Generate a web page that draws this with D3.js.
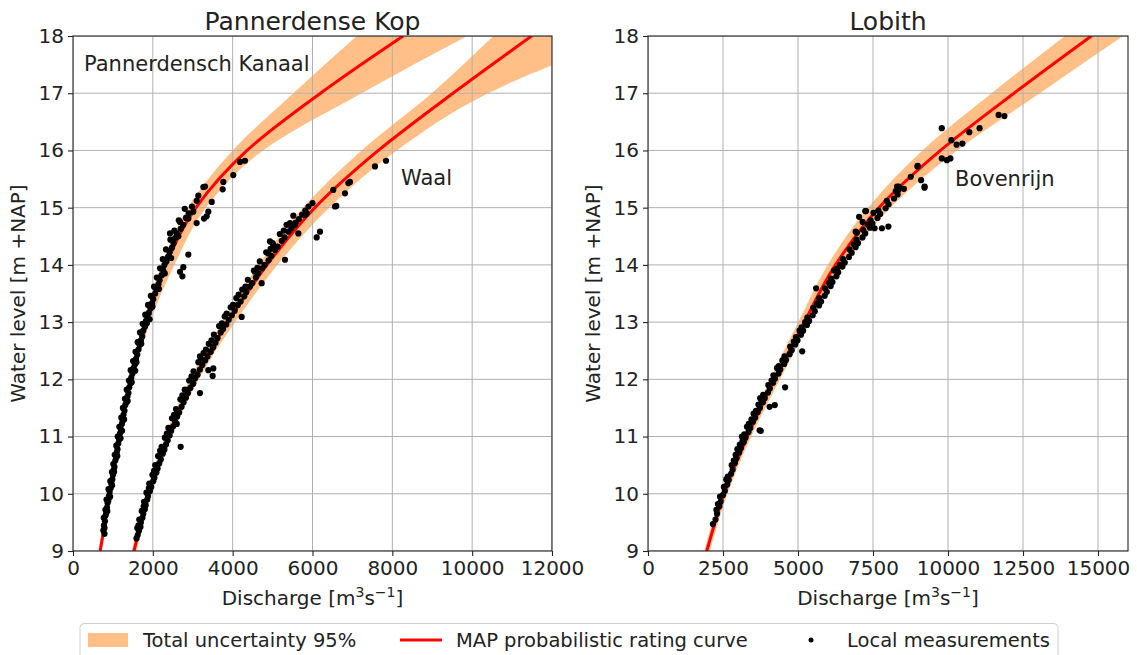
<!DOCTYPE html>
<html>
<head>
<meta charset="utf-8">
<script src="https://cdn.jsdelivr.net/npm/d3@7/dist/d3.min.js"></script>
<style>
	body { margin: 0; background: #fff; }
	svg { font-family: "DejaVu Sans", sans-serif; }
</style>
</head>
<body>
<svg id="chart" width="1137" height="655"></svg>
<script>

const levels = [9, 10, 11, 12, 13, 14, 15, 16, 17, 18]

// Pannerdensch Kanaal
const pkMap  = [680, 927, 1165, 1450, 1830, 2320, 3080, 4360, 6200, 8270]
const pkLow  = [640, 890, 1120, 1400, 1760, 2220, 2880, 4000, 5520, 7110]
const pkHigh = [720, 970, 1220, 1520, 1930, 2540, 3330, 4760, 7230, 9880]

// Waal
const waalMap  = [1528, 1900, 2380, 3030, 3880, 4860, 6060, 7650, 9520, 11490]
const waalLow  = [1470, 1840, 2300, 2930, 3740, 4650, 5760, 7230, 8985, 10530]
const waalHigh = [1590, 1970, 2470, 3150, 4060, 5120, 6420, 8110, 10400, 13900]

// Bovenrijn (Lobith)
const lobMap  = [1960, 2540, 3310, 4230, 5210, 6250, 7700, 9750, 12200, 14780]
const lobLow  = [1870, 2440, 3180, 4070, 5010, 5990, 7330, 9150, 11450, 13900]
const lobHigh = [2060, 2650, 3440, 4400, 5420, 6540, 8080, 10300, 13060, 15830]

// local measurements [discharge, water level]
const pkPoints = [
	[760,9.36],[775,9.45],[790,9.40],[800,9.52],[770,9.58],[815,9.62],[830,9.66],[812,9.72],[850,9.76],[866,9.84],
	[840,9.90],[885,9.88],[900,9.96],[918,10.03],[890,10.08],[945,10.10],[960,10.18],[935,10.22],[985,10.25],[1000,10.33],
	[975,10.38],[1020,10.42],[1040,10.47],[1010,10.52],[1060,10.58],[1080,10.63],[1045,10.68],[1095,10.72],[1115,10.78],[1085,10.84],
	[1135,10.88],[1155,10.95],[1120,11.00],[1175,11.05],[1200,11.12],[1160,11.17],[1225,11.22],[1245,11.28],[1210,11.33],[1265,11.38],
	[1290,11.45],[1250,11.50],[1310,11.55],[1340,11.60],[1300,11.66],[1365,11.70],[1390,11.76],[1345,11.82],[1410,11.86],[1440,11.93],
	[1400,11.98],[1460,12.03],[1490,12.10],[1445,12.16],[1520,12.20],[1550,12.26],[1505,12.32],[1580,12.36],[1610,12.43],[1565,12.48],
	[1640,12.52],[1670,12.60],[1620,12.65],[1700,12.68],[1735,12.75],[1680,12.82],[1760,12.85],[1800,12.92],[1745,12.97],[1830,13.02],
	[1870,13.08],[1810,13.13],[1900,13.16],[1940,13.24],[1880,13.30],[1980,13.33],[2010,13.40],[1950,13.46],[2060,13.50],[2090,13.57],
	[2030,13.62],[2140,13.66],[2170,13.73],[2100,13.78],[2220,13.82],[2260,13.90],[2180,13.94],[2290,14.00],[2340,14.06],[2250,14.10],
	[2380,14.14],[2420,14.22],[2330,14.27],[2480,14.30],[2520,14.38],[2440,14.44],[2560,14.47],[2620,14.52],[2540,14.60],[2700,14.63],
	[2760,14.70],[2650,14.78],[2830,14.82],[2900,14.90],[2800,14.98],[2980,15.02],[3100,15.12],
	[2430,14.55],[2597,14.55],[2639,14.50],[2680,14.75],[2889,14.81],[3014,14.93],[3098,14.73],[3282,14.81],[3349,14.85],[3390,14.93],
	[3476,15.10],[3140,15.21],[3265,15.36],[3307,15.37],[3750,15.32],[3766,15.45],[4016,15.57],[4183,15.80],[4308,15.82],[2889,14.18],
	[2764,13.96],[2680,13.88],[2741,13.80],
	[790,9.30],[860,9.70],[930,9.95],[1030,10.38],[1110,10.66],[1190,10.97],[1280,11.30],[1370,11.62],[1470,11.95],[1590,12.30],
	[1710,12.62],[1850,12.98],[1990,13.27],[2150,13.58],[2300,13.85],[2460,14.12],[1920,13.05],[1560,12.15],[1230,11.10],[980,10.15]
]

const waalPoints = [
	[1590,9.22],[1620,9.28],[1650,9.35],[1610,9.40],[1690,9.42],[1700,9.50],[1660,9.55],[1740,9.58],[1760,9.65],[1720,9.70],
	[1800,9.73],[1820,9.80],[1780,9.86],[1860,9.90],[1880,9.96],[1840,10.02],[1930,10.05],[1960,10.12],[1910,10.18],[2010,10.22],
	[2040,10.28],[1990,10.33],[2090,10.37],[2120,10.44],[2060,10.50],[2160,10.53],[2200,10.60],[2130,10.66],[2250,10.70],[2290,10.77],
	[2220,10.82],[2330,10.86],[2370,10.93],[2300,10.98],[2420,11.02],[2460,11.10],[2390,11.15],[2510,11.18],[2560,11.26],[2480,11.32],
	[2610,11.35],[2660,11.42],[2580,11.48],[2720,11.52],[2770,11.60],[2690,11.65],[2830,11.68],[2880,11.76],[2800,11.82],[2940,11.85],
	[3000,11.92],[2910,11.98],[3060,12.02],[3120,12.08],[3020,12.14],[3180,12.17],[3240,12.25],[3140,12.30],[3310,12.33],[3370,12.40],
	[3270,12.46],[3450,12.48],[3500,12.55],[3400,12.62],[3570,12.64],[3620,12.72],[3530,12.78],[3700,12.82],[3760,12.88],[3660,12.93],
	[3840,12.96],[3900,13.04],[3800,13.10],[3980,13.12],[4050,13.20],[3950,13.26],[4130,13.30],[4200,13.36],[4090,13.42],[4290,13.45],
	[4340,13.52],[4240,13.57],[4430,13.62],[4490,13.68],[4380,13.74],[4580,13.78],[4640,13.85],[4530,13.90],[4740,13.94],[4800,14.00],
	[4680,14.06],[4900,14.08],[4970,14.16],[4840,14.22],[5060,14.26],[5130,14.32],[5000,14.38],[5230,14.42],[5300,14.48],[5180,14.54],
	[5400,14.58],[5470,14.64],[5350,14.70],[5580,14.74],[5660,14.80],[5520,14.86],[5740,14.88],[5820,14.95],[5900,15.02],[6000,15.08],
	[2697,10.82],[3499,12.06],[3390,12.16],[3515,12.19],[3181,12.40],[3515,12.57],[3014,11.93],[2848,11.81],[3181,11.76],[3850,13.15],
	[4225,13.09],[4309,13.59],[4726,13.68],[4559,13.88],[5311,14.09],[4893,14.20],[5018,14.35],[4935,14.41],[5645,14.55],[5436,14.73],
	[5561,14.70],[5812,14.87],[5854,14.90],[6104,14.48],[6188,14.58],[6563,15.02],[6596,15.03],[6521,15.31],[6814,15.25],[6897,15.43],
	[6939,15.45],[7565,15.72],[7841,15.82],
	[1640,9.45],[1770,9.78],[1900,10.10],[2030,10.40],[2180,10.75],[2350,11.05],[2530,11.38],[2740,11.72],[2970,12.05],[3210,12.36],
	[3470,12.68],[3730,12.98],[4010,13.30],[4320,13.62],[4620,13.95],[4950,14.28],[5280,14.60],[2600,11.22],[3330,12.52],[4150,13.48]
]

const lobPoints = [
	[2163,9.47],[2250,9.55],[2300,9.65],[2280,9.72],[2380,9.78],[2420,9.86],[2400,9.95],[2500,9.98],[2560,10.05],[2530,10.12],
	[2640,10.16],[2690,10.24],[2660,10.30],[2770,10.35],[2820,10.42],[2790,10.50],[2900,10.54],[2950,10.62],[2920,10.68],[3040,10.72],
	[3100,10.80],[3060,10.86],[3190,10.90],[3250,10.98],[3210,11.04],[3350,11.08],[3410,11.15],[3360,11.22],[3500,11.26],[3570,11.33],
	[3520,11.40],[3660,11.43],[3730,11.50],[3680,11.56],[3830,11.60],[3890,11.67],[3840,11.73],[4000,11.77],[4060,11.84],[4010,11.90],
	[4170,11.94],[4230,12.01],[4180,12.07],[4350,12.10],[4410,12.17],[4360,12.23],[4540,12.27],[4600,12.34],[4550,12.40],[4720,12.44],
	[4790,12.51],[4740,12.57],[4910,12.61],[4980,12.68],[4930,12.74],[5100,12.78],[5170,12.85],[5120,12.91],[5300,12.95],[5370,13.02],
	[5310,13.08],[5490,13.12],[5560,13.19],[5510,13.25],[5700,13.29],[5770,13.36],[5710,13.42],[5890,13.46],[5960,13.53],[5900,13.59],
	[6090,13.63],[6150,13.70],[6100,13.76],[6280,13.80],[6340,13.87],[6300,13.93],[6480,13.97],[6560,14.04],[6500,14.10],[6700,14.14],
	[6790,14.21],[6720,14.27],[6920,14.31],[7000,14.38],[6950,14.44],[7150,14.48],[7240,14.55],[7180,14.61],[7400,14.65],[7480,14.72],
	[7420,14.78],[7650,14.82],[7740,14.89],[7680,14.95],[7920,14.99],[8020,15.06],[7960,15.12],[8200,15.16],[8320,15.23],[8260,15.29],
	[8530,15.33],
	[3130,11.00],[3297,11.17],[3720,11.11],[3760,11.10],[4053,11.52],[4227,11.55],[4570,11.86],[5140,12.49],[5603,13.59],[3740,11.67],
	[6963,14.56],[6923,14.58],[7037,14.84],[7153,14.75],[7267,14.94],[7240,14.94],[7517,14.91],[7553,14.64],[7797,14.64],[8013,14.67],
	[8300,15.37],[8357,15.37],[8350,15.31],[8760,15.54],[8990,15.73],[8983,15.72],[9103,15.48],[9220,15.37],[9217,15.35],[9793,15.86],
	[9963,15.83],[10080,15.86],[9793,16.39],[10113,16.18],[10287,16.10],[10480,16.12],[10710,16.32],[11053,16.39],[11687,16.62],[11880,16.60],
	[2330,9.82],[2610,10.25],[2860,10.58],[3150,10.92],[3450,11.30],[3790,11.64],[4120,11.98],[4480,12.33],[4860,12.66],[5240,13.00],
	[5640,13.33],[6040,13.68],[6400,14.00],[6860,14.36],[7330,14.70],[5050,12.85],[4300,12.20],[3600,11.45],[2980,10.78],[6200,13.90]
]

const levelTicks = [9, 10, 11, 12, 13, 14, 15, 16, 17, 18]
const leftTicks = [0, 2000, 4000, 6000, 8000, 10000, 12000]
const rightTicks = [0, 2500, 5000, 7500, 10000, 12500, 15000]

const legendLabels = ['Total uncertainty 95%', 'MAP probabilistic rating curve', 'Local measurements']

const bandColor = '#ffbf86'
const gridColor = '#b0b0b0'

const svg = d3.select('#chart')

const y = d3.scaleLinear()
	.domain([9, 18])
	.range([551, 36])

function drawPanel(id, x, xTicks, title, rivers, labels) {

	const [x0, x1] = x.range()
	const [yb, yt] = y.range()

	svg.append('clipPath')
		.attr('id', 'clip-' + id)
		.append('rect')
		.attr('x', x0)
		.attr('y', yt)
		.attr('width', x1 - x0)
		.attr('height', yb - yt)

	const plot = svg.append('g')
		.attr('clip-path', 'url(#clip-' + id + ')')

	// monotone in y, walked from the top of the plot down
	const band = d3.area()
		.y(d => y(d.h))
		.x0(d => x(d.lo))
		.x1(d => x(d.hi))
		.curve(d3.curveMonotoneY)

	const line = d3.line()
		.x(d => x(d.q))
		.y(d => y(d.h))
		.curve(d3.curveMonotoneY)

	rivers.forEach(function(r) {
		const rows = levels.map((h, i) => ({h: h, lo: r.low[i], hi: r.high[i]})).reverse()
		plot.append('path')
			.datum(rows)
			.attr('fill', bandColor)
			.attr('d', band)
	})

	// grid sits above the band, below the lines
	const grid = plot.append('g')
	xTicks.forEach(function(t) {
		grid.append('line')
			.attr('x1', x(t)).attr('x2', x(t))
			.attr('y1', yt).attr('y2', yb)
			.attr('stroke', gridColor)
			.attr('stroke-width', 1)
	})
	levelTicks.forEach(function(t) {
		grid.append('line')
			.attr('x1', x0).attr('x2', x1)
			.attr('y1', y(t)).attr('y2', y(t))
			.attr('stroke', gridColor)
			.attr('stroke-width', 1)
	})

	rivers.forEach(function(r) {
		const rows = levels.map((h, i) => ({h: h, q: r.map[i]})).reverse()
		plot.append('path')
			.datum(rows)
			.attr('fill', 'none')
			.attr('stroke', 'red')
			.attr('stroke-width', 3)
			.attr('d', line)
	})

	rivers.forEach(function(r) {
		plot.append('g')
			.selectAll('circle')
			.data(r.points)
			.enter()
			.append('circle')
			.attr('cx', d => x(d[0]))
			.attr('cy', d => y(d[1]))
			.attr('r', 3.1)
			.attr('fill', 'black')
	})

	// frame
	svg.append('rect')
		.attr('x', x0)
		.attr('y', yt)
		.attr('width', x1 - x0)
		.attr('height', yb - yt)
		.attr('fill', 'none')
		.attr('stroke', '#222')
		.attr('stroke-width', 1.1)

	const xAxis = d3.axisBottom(x)
		.tickValues(xTicks)
		.tickFormat(d3.format('d'))
		.tickSize(5)
		.tickPadding(5)

	const yAxis = d3.axisLeft(y)
		.tickValues(levelTicks)
		.tickFormat(d3.format('d'))
		.tickSize(5)
		.tickPadding(4)

	const xg = svg.append('g')
		.attr('transform', 'translate(0,' + yb + ')')
		.call(xAxis)
	const yg = svg.append('g')
		.attr('transform', 'translate(' + x0 + ',0)')
		.call(yAxis)

	;[xg, yg].forEach(function(g) {
		g.select('.domain').remove()
		g.selectAll('.tick line').attr('stroke', '#222').attr('stroke-width', 1.1)
		g.selectAll('.tick text')
			.attr('fill', '#222')
			.style('font-family', '"DejaVu Sans", sans-serif')
			.style('font-size', '20px')
	})

	svg.append('text')
		.attr('x', (x0 + x1) / 2)
		.attr('y', 29.5)
		.attr('text-anchor', 'middle')
		.style('font-size', '25px')
		.attr('fill', '#222')
		.text(title)

	const xl = svg.append('text')
		.attr('x', (x0 + x1) / 2)
		.attr('y', 605)
		.attr('text-anchor', 'middle')
		.style('font-size', '20px')
		.attr('fill', '#222')
	xl.append('tspan').text('Discharge [m')
	xl.append('tspan').attr('dy', -8).style('font-size', '14px').text('3')
	xl.append('tspan').attr('dy', 8).text('s')
	xl.append('tspan').attr('dy', -8).style('font-size', '14px').text('\u22121')
	xl.append('tspan').attr('dy', 8).text(']')

	svg.append('text')
		.attr('transform', 'translate(' + (x0 - 48) + ',' + (yt + yb) / 2 + ') rotate(-90)')
		.attr('text-anchor', 'middle')
		.style('font-size', '20px')
		.attr('fill', '#222')
		.text('Water level [m +NAP]')

	labels.forEach(function(l) {
		svg.append('text')
			.attr('x', l.x)
			.attr('y', l.y)
			.style('font-size', '21px')
			.attr('fill', '#222')
			.text(l.text)
	})
}

const xLeft = d3.scaleLinear().domain([0, 12000]).range([73, 552])
const xRight = d3.scaleLinear().domain([0, 16000]).range([648, 1128])

drawPanel('left', xLeft, leftTicks, 'Pannerdense Kop', [
	{map: pkMap, low: pkLow, high: pkHigh, points: pkPoints},
	{map: waalMap, low: waalLow, high: waalHigh, points: waalPoints}
], [
	{text: 'Pannerdensch Kanaal', x: 84, y: 70.5},
	{text: 'Waal', x: 401, y: 185}
])

drawPanel('right', xRight, rightTicks, 'Lobith', [
	{map: lobMap, low: lobLow, high: lobHigh, points: lobPoints}
], [
	{text: 'Bovenrijn', x: 955, y: 185.5}
])

// legend
const legend = svg.append('g')

legend.append('rect')
	.attr('x', 80)
	.attr('y', 623.5)
	.attr('width', 978)
	.attr('height', 45)
	.attr('rx', 4)
	.attr('fill', 'white')
	.attr('stroke', '#d0d0d0')
	.attr('stroke-width', 1)

legend.append('rect')
	.attr('x', 88)
	.attr('y', 633)
	.attr('width', 40)
	.attr('height', 14)
	.attr('fill', bandColor)

legend.append('line')
	.attr('x1', 400).attr('x2', 442)
	.attr('y1', 640).attr('y2', 640)
	.attr('stroke', 'red')
	.attr('stroke-width', 3)

legend.append('circle')
	.attr('cx', 811)
	.attr('cy', 640)
	.attr('r', 2.5)
	.attr('fill', 'black')

const legendX = [143, 456, 847]
legendLabels.forEach(function(s, i) {
	legend.append('text')
		.attr('x', legendX[i])
		.attr('y', 646.5)
		.style('font-size', '19.5px')
		.attr('fill', '#222')
		.text(s)
})

</script>
</body>
</html>
